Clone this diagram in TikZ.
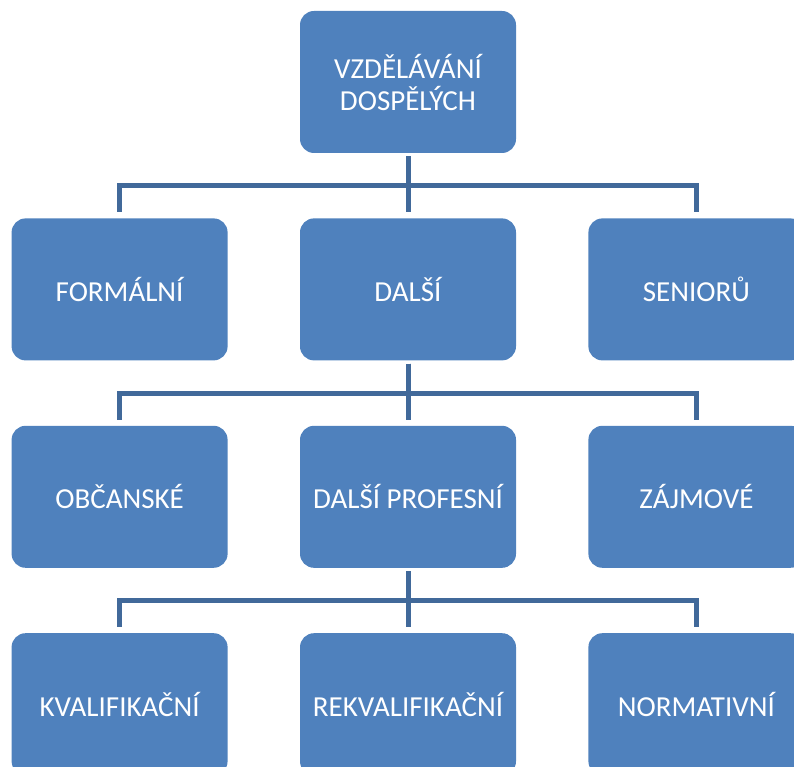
\documentclass[tikz,border=0pt]{standalone}
\usepackage{fontspec}
\setmainfont{Carlito}
\usetikzlibrary{positioning}

\definecolor{boxblue}{HTML}{4F81BD}
\definecolor{linkblue}{HTML}{41699A}

\begin{document}
\begin{tikzpicture}[x=1pt, y=1pt, node distance=65pt and 72pt,
        box/.style={rectangle, rounded corners=14pt, fill=boxblue, text=white,
            minimum width=216pt, minimum height=142pt, inner sep=0pt,
            align=center, font=\fontsize{29}{32}\selectfont},
        link/.style={draw=linkblue, line width=5pt}]

    \useasboundingbox (0,0) rectangle (794,766);
    \clip (0,0) rectangle (794,766);

    % Nodes
    \node[box] (top) at (408,684) {VZDĚLÁVÁNÍ\\DOSPĚLÝCH};
    \node[box] (dalsi) [below=of top] {DALŠÍ};
    \node[box] (formal) [left=of dalsi] {FORMÁLNÍ};
    \node[box] (senior) [right=of dalsi] {SENIORŮ};

    \node[box] (profesni) [below=of dalsi] {DALŠÍ PROFESNÍ};
    \node[box] (obcan) [left=of profesni] {OBČANSKÉ};
    \node[box] (zajmove) [right=of profesni] {ZÁJMOVÉ};

    \node[box] (rekval) [below=of profesni] {REKVALIFIKAČNÍ};
    \node[box] (kval) [left=of rekval] {KVALIFIKAČNÍ};
    \node[box] (norm) [right=of rekval] {NORMATIVNÍ};

    % Edges
    \draw[link] ([yshift=-3pt]top.south) -- ([yshift=6pt]dalsi.north);
    \draw[link] ([yshift=-3pt]top.south) -- ++(0,-29.5) -| ([yshift=6pt]formal.north);
    \draw[link] ([yshift=-3pt]top.south) -- ++(0,-29.5) -| ([yshift=6pt]senior.north);

    \draw[link] ([yshift=-3pt]dalsi.south) -- ([yshift=6pt]profesni.north);
    \draw[link] ([yshift=-3pt]dalsi.south) -- ++(0,-29.5) -| ([yshift=6pt]obcan.north);
    \draw[link] ([yshift=-3pt]dalsi.south) -- ++(0,-29.5) -| ([yshift=6pt]zajmove.north);

    \draw[link] ([yshift=-3pt]profesni.south) -- ([yshift=6pt]rekval.north);
    \draw[link] ([yshift=-3pt]profesni.south) -- ++(0,-29.5) -| ([yshift=6pt]kval.north);
    \draw[link] ([yshift=-3pt]profesni.south) -- ++(0,-29.5) -| ([yshift=6pt]norm.north);

\end{tikzpicture}
\end{document}
